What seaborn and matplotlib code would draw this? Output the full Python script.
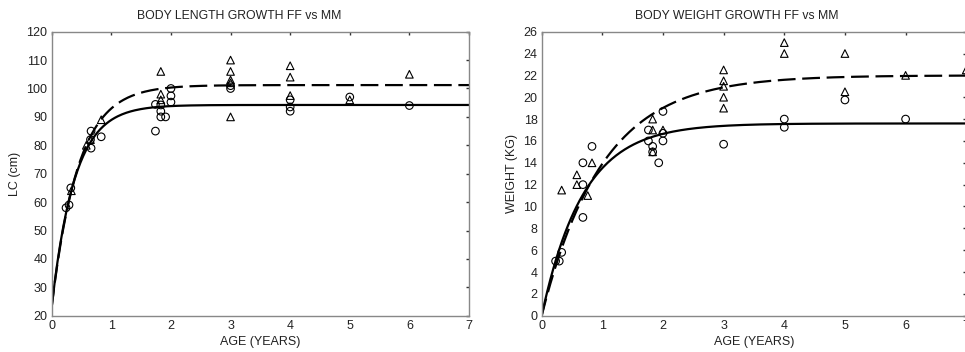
import matplotlib
matplotlib.use("Agg")
import matplotlib.pyplot as plt
import seaborn as sns
import numpy as np
import pandas as pd

# -----------------------------
# Data
# -----------------------------
# body length (cm), circles = FF, triangles = MM
len_ff_age = [0.24, 0.29, 0.32, 0.66, 0.66, 0.83, 0.65, 1.74, 1.74, 1.83, 1.83, 1.83, 1.91,
              2.0, 2.0, 2.0, 3.0, 3.0, 4.0, 4.0, 4.0, 5.0, 6.0]
len_ff_val = [58, 59, 65, 85, 79, 83, 82, 85, 94.4, 94.2, 92, 90, 90,
              100, 97.4, 95.2, 100, 101, 96, 93.5, 92, 97, 94]
len_mm_age = [0.33, 0.58, 0.65, 0.83, 1.83, 1.83, 1.83, 3.0, 3.0, 3.0, 3.0, 3.0,
              4.0, 4.0, 4.0, 5.0, 6.0]
len_mm_val = [64, 80, 82, 89, 106, 98, 96, 110, 106, 103, 102, 90,
              108, 104, 97.5, 96, 105]

# body weight (kg)
wt_ff_age = [0.23, 0.29, 0.33, 0.68, 0.68, 0.68, 0.83, 1.76, 1.76, 1.83, 1.83, 1.93,
             2.0, 2.0, 2.0, 3.0, 4.0, 4.0, 5.0, 6.0]
wt_ff_val = [5.0, 5.0, 5.8, 14.0, 12.0, 9.0, 15.5, 17.0, 16.0, 15.5, 15.0, 14.0,
             18.7, 16.7, 16.0, 15.7, 18.0, 17.25, 19.75, 18.0]
wt_mm_age = [0.33, 0.58, 0.58, 0.76, 0.83, 1.83, 1.83, 1.83, 2.0, 3.0, 3.0, 3.0, 3.0, 3.0,
             4.0, 4.0, 5.0, 5.0, 6.0, 7.0]
wt_mm_val = [11.5, 12.9, 12.0, 11.0, 14.0, 18.0, 17.0, 15.0, 17.0, 22.5, 21.5, 21.0, 20.0, 19.0,
             25.0, 24.0, 24.0, 20.5, 22.0, 22.5]

# fitted growth curves (asymptote, rate, value at age 0)
len_ff_fit = (94.2, 2.6, 23.2)
len_mm_fit = (101.2, 2.25, 23.2)
wt_ff_fit = (17.6, 1.46, 0.0)
wt_mm_fit = (22.0, 1.0, 0.0)

ages = np.linspace(0, 7.2, 300)


def growth(fit):
    inf, k, start = fit
    return inf - (inf - start) * np.exp(-k * ages)


def points(a_ff, v_ff, a_mm, v_mm):
    return pd.DataFrame({
        "age": a_ff + a_mm,
        "value": v_ff + v_mm,
        "sex": ["FF"] * len(a_ff) + ["MM"] * len(a_mm),
    })


def curves(fit_ff, fit_mm):
    return pd.DataFrame({
        "age": np.concatenate([ages, ages]),
        "value": np.concatenate([growth(fit_ff), growth(fit_mm)]),
        "sex": ["FF"] * len(ages) + ["MM"] * len(ages),
    })


sns.set_theme(style="white")
plt.rcParams["font.family"] = ["Liberation Sans", "DejaVu Sans"]

fig = plt.figure(figsize=(9.65, 3.52), dpi=100)
ax1 = fig.add_axes([0.0536, 0.103, 0.4324, 0.807])
ax2 = fig.add_axes([0.5613, 0.103, 0.4400, 0.807])

panels = [
    (ax1, points(len_ff_age, len_ff_val, len_mm_age, len_mm_val), curves(len_ff_fit, len_mm_fit),
     "BODY LENGTH GROWTH FF vs MM", "LC (cm)", (20, 120), np.arange(20, 121, 10), 0.45),
    (ax2, points(wt_ff_age, wt_ff_val, wt_mm_age, wt_mm_val), curves(wt_ff_fit, wt_mm_fit),
     "BODY WEIGHT GROWTH FF vs MM", "WEIGHT (KG)", (0, 26), np.arange(0, 27, 2), 0.46),
]

for ax, pts, crv, title, ylab, ylim, yticks, tx in panels:
    sns.lineplot(data=crv, x="age", y="value", style="sex",
                 dashes={"FF": "", "MM": (8, 3)}, color="black", linewidth=1.6,
                 legend=False, ax=ax, zorder=2)
    sns.scatterplot(data=pts, x="age", y="value", style="sex",
                    markers={"FF": "o", "MM": "^"}, s=30, facecolor="none",
                    edgecolor="black", linewidth=0.8, legend=False, ax=ax, zorder=3)
    ax.set_xlim(0, 7)
    ax.set_ylim(*ylim)
    ax.set_xticks(range(0, 8))
    ax.set_yticks(yticks)
    ax.tick_params(direction="in", length=2, width=1, color="#333333", top=True, right=True,
                   labelsize=9, pad=3, labelcolor="#222222")
    for sp in ax.spines.values():
        sp.set_color("#888888")
        sp.set_linewidth(1.0)
    ax.set_title(title, fontsize=8.8, pad=9, x=tx, color="#222222")
    ax.set_xlabel("AGE (YEARS)", fontsize=9, labelpad=3, color="#222222")
    ax.set_ylabel(ylab, fontsize=9, labelpad=4, color="#222222")

fig.savefig("out.png", dpi=100)
plt.close(fig)
